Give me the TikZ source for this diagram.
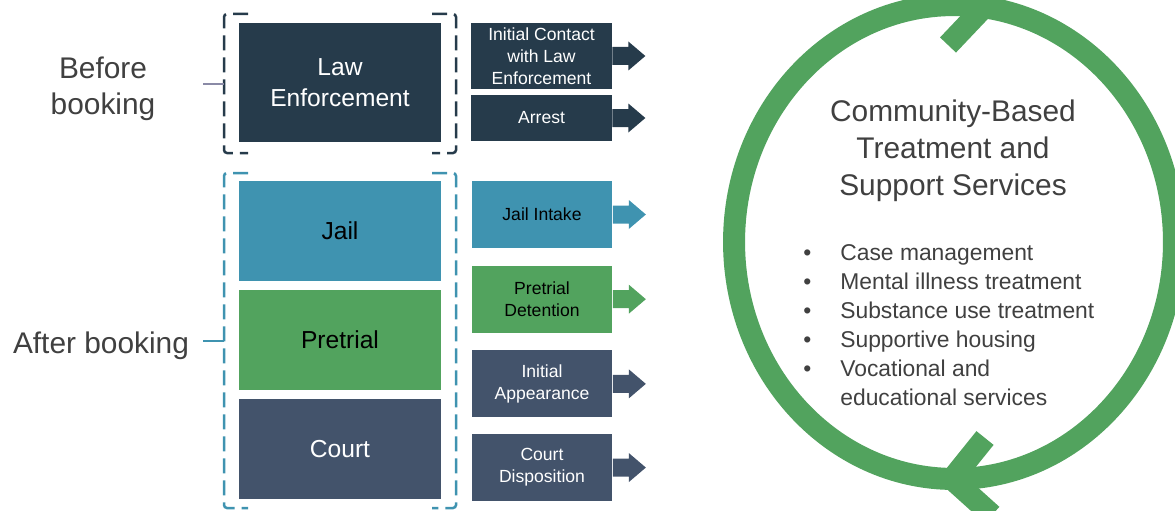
\documentclass[tikz,border=0pt]{standalone}
\usepackage{fontspec}
\setmainfont{Liberation Sans}
\usetikzlibrary{positioning}

\definecolor{navy}{HTML}{263B4B}
\definecolor{jailblue}{HTML}{3F93B0}
\definecolor{pregreen}{HTML}{52A35E}
\definecolor{courtgray}{HTML}{43536B}
\definecolor{textgray}{HTML}{404040}
\definecolor{linkgray}{HTML}{8A8AA6}

\begin{document}
\begin{tikzpicture}[x=0.02cm, y=-0.02cm,
    stage/.style={minimum width=4.04cm, minimum height=2cm, inner sep=0pt, align=center, font=\fontsize{14}{18}\selectfont},
    event/.style={minimum width=2.82cm, minimum height=1.34cm, inner sep=0pt, align=center, font=\fontsize{10}{12.5}\selectfont},
    side/.style={text=textgray, align=center, font=\fontsize{17}{20.5}\selectfont},
    bracket/.style={line width=0.05cm, dash pattern=on 0.3cm off 0.14cm, rounded corners=0.06cm},
    ring/.style={draw=pregreen, line width=0.44cm, line join=miter},
    node distance = 0.17cm]
  \useasboundingbox (0,0) rectangle (1175,510);
  \clip (0,0) rectangle (1175,510);

  % stages
  \node[stage, fill=navy, text=white, minimum width=4.06cm, minimum height=2.38cm] (law) at (340,82.5) {Law\\Enforcement};
  \node[stage, fill=jailblue, text=black] (jail) at (340,231) {Jail};
  \node[stage, fill=pregreen, text=black] (pre)  [below = of jail] {Pretrial};
  \node[stage, fill=courtgray, text=white] (court) [below = of pre] {Court};

  % intercept points
  \node[event, fill=navy, text=white] (ic) at (541.5,56) {Initial Contact\\with Law\\Enforcement};
  \node[event, fill=navy, text=white, minimum height=0.92cm] (ar) at (541.5,118) {Arrest};
  \node[event, fill=jailblue, text=black] (ji) at (542,214.5) {Jail Intake};
  \node[event, fill=pregreen, text=black] (pd) [below = 0.34cm of ji] {Pretrial\\Detention};
  \node[event, fill=courtgray, text=white] (ia) [below = 0.34cm of pd] {Initial\\Appearance};
  \node[event, fill=courtgray, text=white] (cd) [below = 0.32cm of ia] {Court\\Disposition};

  \foreach \n/\c in {ic/navy, ar/navy, ji/jailblue, pd/pregreen, ia/courtgray, cd/courtgray}
    \fill[\c] (\n.east) ++(0,-9) -- ++(16,0) -- ++(0,-5.5) -- ++(17,14.5) -- ++(-17,14.5) -- ++(0,-5.5) -- ++(-16,0) -- cycle;

  % brackets
  \draw[bracket, navy] (248,14) -- (224,14) -- (224,153) -- (248,153);
  \draw[bracket, navy] (432,14) -- (456,14) -- (456,153) -- (432,153);
  \draw[bracket, jailblue] (248,173) -- (224,173) -- (224,508) -- (248,508);
  \draw[bracket, jailblue] (432,173) -- (456,173) -- (456,508) -- (432,508);

  % side labels
  \node[side] (before) at (103,88.5) {Before\\booking};
  \node[side] (after) at (101,346) {After booking};
  \coordinate (b0) at (203,84);
  \coordinate (b1) at (224,84);
  \coordinate (a0) at (203,341);
  \coordinate (a1) at (224,341);
  \draw[linkgray, line width=0.03cm] (b0) -- (b1);
  \draw[jailblue, line width=0.03cm] (a0) -- (a1);

  % services ring
  \draw[ring] (954,242) ellipse [x radius=4.4cm, y radius=4.74cm];
  \draw[ring] (948,45) -- (985,6) -- (948,-33);
  \draw[ring] (985,438) -- (952,479) -- (992,515);

  \node[text=textgray, align=center, font=\fontsize{17}{21}\selectfont] (title) at (953,151)
    {Community-Based\\Treatment and\\Support Services};
  \node[text=textgray, anchor=west, inner sep=0pt, font=\fontsize{13}{16.5}\selectfont] (items) at (803,327)
    {\begin{tabular}{@{}l@{\hspace{0.58cm}}l@{}}
      \textbullet & Case management\\
      \textbullet & Mental illness treatment\\
      \textbullet & Substance use treatment\\
      \textbullet & Supportive housing\\
      \textbullet & Vocational and\\
                  & educational services
    \end{tabular}};
\end{tikzpicture}
\end{document}
